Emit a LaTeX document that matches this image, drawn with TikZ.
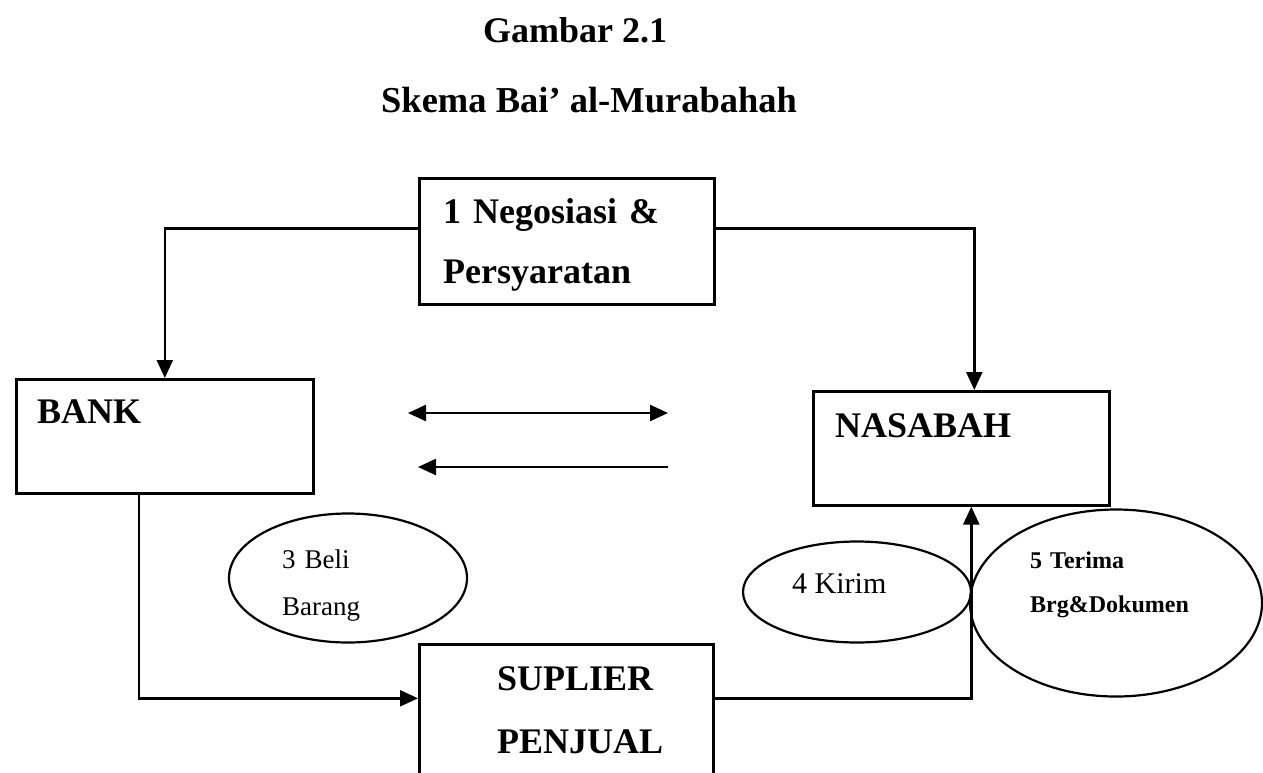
\documentclass[tikz,border=0pt]{standalone}
\usepackage{fontspec}
\setmainfont{Liberation Serif}
\usetikzlibrary{arrows.meta, shapes.geometric}

\begin{document}
\begin{tikzpicture}[x=1pt, y=-1pt,
  box/.style={draw, line width=2.6pt, anchor=north west, inner sep=0pt},
  oval/.style={ellipse, draw, line width=2.2pt, inner sep=0pt},
  txt/.style={inner sep=0pt, anchor=base west, align=left, font=\fontsize{36}{60}\selectfont\bfseries},
  conn/.style={line width=2.4pt, -{Triangle[length=18pt, width=16pt]}},
  both/.style={line width=2.4pt, {Triangle[length=18pt, width=16pt]}-{Triangle[length=18pt, width=16pt]}}]
  \useasboundingbox (0,0) rectangle (1263,772);
  \clip (0,0) rectangle (1263,772);

  \node[txt] (judul) at (483,42) {Gambar 2.1};
  \node[txt, font=\fontsize{36.5}{40}\selectfont\bfseries] (skema) at (381,112) {Skema Bai’ al-Murabahah};

  \node[box, minimum width=295pt, minimum height=126pt] (nego) at (418,177) {};
  \node[box, minimum width=297pt, minimum height=114pt] (bank) at (15,378) {};
  \node[box, minimum width=296pt, minimum height=114pt] (nasabah) at (812,390) {};
  \node[box, minimum width=294pt, minimum height=134pt] (suplier) at (418,643) {};

  \node[oval, minimum width=238pt, minimum height=129pt] (beli) at (348,578) {};
  \node[oval, minimum width=228pt, minimum height=101pt] (kirim) at (857,592) {};
  \node[oval, minimum width=292pt, minimum height=187pt] (terima) at (1116,603) {};

  \node[txt, text width=260pt] (negotxt) at (443,223) {1 Negosiasi \&\\Persyaratan};
  \node[txt] (banktxt) at (37,423) {BANK};
  \node[txt] (nasabahtxt) at (835,437) {NASABAH};
  \node[txt, text width=200pt, font=\fontsize{36}{63}\selectfont\bfseries] (supliertxt) at (497,690) {SUPLIER\\PENJUAL};
  \node[txt, text width=120pt, font=\fontsize{27}{47}\selectfont] (belitxt) at (282,568) {3 Beli\\Barang};
  \node[txt, font=\fontsize{30}{36}\selectfont] (kirimtxt) at (792,593) {4 Kirim};
  \node[txt, text width=200pt, font=\fontsize{24}{44}\selectfont\bfseries] (terimatxt) at (1030,568) {5 Terima\\Brg\&Dokumen};

  \draw[conn] ([yshift=13pt]nego.west) -| (bank.north);
  \draw[conn] ([yshift=13pt]nego.east) -| ([xshift=13pt]nasabah.north);
  \draw[conn] ([xshift=-26pt]bank.south) |- ([yshift=13pt]suplier.west);
  \draw[conn] ([yshift=13pt]suplier.east) -| ([xshift=10pt]nasabah.south);

  \coordinate (a1) at (408,413);
  \coordinate (a2) at (668,413);
  \coordinate (b1) at (668,467);
  \coordinate (b2) at (418,467);
  \draw[both] (a1) -- (a2);
  \draw[conn] (b1) -- (b2);
\end{tikzpicture}
\end{document}
